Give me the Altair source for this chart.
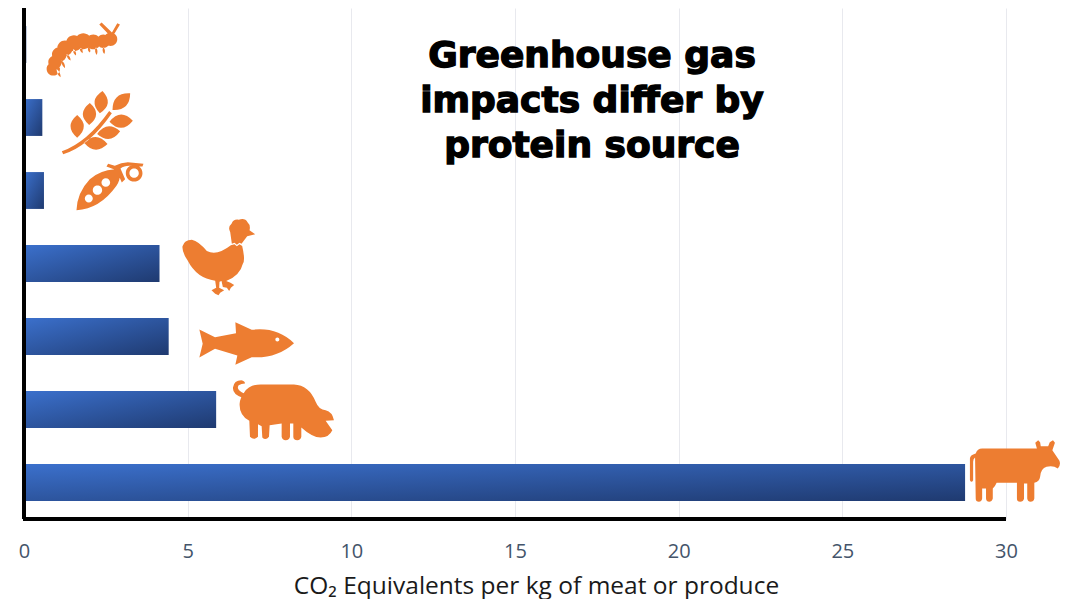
import re
import altair as alt
import pandas as pd

sources = ["Insects", "Wheat", "Peas", "Chicken", "Fish", "Pork", "Beef"]
co2_values = [0.07, 0.56, 0.61, 4.14, 4.42, 5.87, 28.75]
x_ticks = [0, 5, 10, 15, 20, 25, 30]
title_lines = ["Greenhouse gas", "impacts differ by", "protein source"]
axis_title = "CO\u2082 Equivalents per kg of meat or produce"

ORANGE = "#ED7D31"


def circle(cx, cy, r, hole=False):
    k = 0.5523 * r
    if hole:
        return (f"M{cx+r},{cy} C{cx+r},{cy-k} {cx+k},{cy-r} {cx},{cy-r} C{cx-k},{cy-r} {cx-r},{cy-k} {cx-r},{cy} "
                f"C{cx-r},{cy+k} {cx-k},{cy+r} {cx},{cy+r} C{cx+k},{cy+r} {cx+r},{cy+k} {cx+r},{cy} Z ")
    return (f"M{cx+r},{cy} C{cx+r},{cy+k} {cx+k},{cy+r} {cx},{cy+r} C{cx-k},{cy+r} {cx-r},{cy+k} {cx-r},{cy} "
            f"C{cx-r},{cy-k} {cx-k},{cy-r} {cx},{cy-r} C{cx+k},{cy-r} {cx+r},{cy-k} {cx+r},{cy} Z ")


def leaf(tx, ty, bx, by, w):
    mx, my = (tx + bx) / 2, (ty + by) / 2
    dx, dy = bx - tx, by - ty
    n = (dx * dx + dy * dy) ** 0.5
    px, py = -dy / n * w, dx / n * w
    return f"M{tx},{ty} Q{mx+px},{my+py} {bx},{by} Q{mx-px},{my-py} {tx},{ty} Z "


def glyph(path, sx=1 / 3, sy=1 / 3):
    """Centre a glyph outline on its own bounding box and scale it."""
    nums = [float(n) for n in re.findall(r"-?\d+\.?\d*", path)]
    xs, ys = nums[0::2], nums[1::2]
    cx, cy = (min(xs) + max(xs)) / 2, (min(ys) + max(ys)) / 2
    it = iter(range(len(nums)))

    def repl(m):
        i = next(it)
        if i % 2 == 0:
            return f"{(float(m.group()) - cx) * sx:.2f}"
        return f"{(float(m.group()) - cy) * sy:.2f}"

    return re.sub(r"-?\d+\.?\d*", repl, path)


insect = "".join(circle(x, y, r) for x, y, r in [
    (160, 205, 20), (165, 185, 20), (178, 162, 22), (195, 143, 23), (222, 128, 24),
    (250, 122, 24), (280, 124, 22), (310, 122, 20), (332, 116, 20)])
insect += "".join(leaf(a, b, c, d, 7) for a, b, c, d in [
    (182, 230, 170, 205), (195, 203, 185, 180), (212, 180, 200, 160), (228, 165, 220, 145),
    (248, 158, 240, 140), (270, 156, 265, 140), (290, 163, 288, 140), (313, 160, 310, 140)])
insect += "M298,72 L305,66 L336,96 L352,68 L360,72 L340,105 L325,100 Z"

wheat = ("M186,457 Q262,430 328,336 L336,343 Q268,442 190,466 Z "
         + leaf(308, 276, 300, 343, 40) + leaf(270, 312, 268, 378, 40) + leaf(232, 348, 232, 416, 40)
         + leaf(391, 283, 338, 333, 38) + leaf(399, 365, 329, 368, 40)
         + leaf(361, 397, 292, 405, 38) + leaf(323, 435, 253, 431, 38))

pea = ("M230,628 Q232,575 270,535 Q300,508 345,505 Q372,520 350,555 Q300,625 230,628 Z "
       + circle(267, 593, 12, True) + circle(293, 568, 14, True) + circle(318, 545, 13, True)
       + "M320,497 L325,489 L345,495 Q372,480 400,486 L431,489 L428,497 L408,497 "
         "Q378,490 362,503 L376,535 L366,545 L350,508 Z "
       + circle(403, 517, 25) + circle(403, 517, 14, True))

chicken = ("M547,108 Q552,88 575,88 Q595,92 620,122 Q650,138 692,105 L703,102 L710,108 L718,102 L726,107 "
           "Q736,150 728,160 Q720,195 678,212 L691,217 L702,224 L692,232 L687,242 L680,232 L668,230 L664,212 "
           "L658,214 L657,232 L672,240 L660,247 L655,255 L645,250 L634,240 L648,232 L645,211 "
           "Q590,205 562,150 Q545,125 547,108 Z "
           "M695,100 L690,65 Q682,50 694,40 Q700,25 716,28 Q735,22 742,36 Q752,45 748,60 L765,72 L741,78 L724,100 "
           "L718,97 L710,103 L703,97 Z")

fish = ("M598,357 L645,380 L708,368 L706,335 L755,358 Q830,348 882,398 Q830,445 755,440 "
        "L706,463 L712,435 L645,415 L598,441 L608,400 Z " + circle(832, 387, 6, True))

pig = ("M730,548 Q745,523 780,523 L880,523 Q925,525 945,575 Q955,600 975,600 Q995,605 1000,630 "
       "L975,632 L995,660 Q985,682 960,682 Q935,682 902,652 L902,680 Q900,690 890,690 Q878,690 878,680 "
       "L878,640 L868,640 L868,680 Q866,690 855,690 Q845,690 843,680 L843,640 L807,645 L805,680 Q795,692 785,682 "
       "L783,648 L772,642 L772,680 Q760,692 748,680 L746,632 Q715,615 717,580 Q718,565 730,548 Z "
       "M724,562 Q695,552 697,532 Q700,510 722,510 Q733,512 733,520 Q722,520 714,525 Q705,538 730,550 Z")

cow = ("M212,180 L212,115 Q212,105 230,100 Q235,85 250,85 L420,85 L415,68 L424,60 L430,66 L432,78 L455,78 "
       "L460,66 L470,60 L476,68 L468,90 L490,122 Q495,135 485,145 Q470,135 450,140 Q432,145 430,170 "
       "Q428,185 412,188 L412,235 Q410,245 400,245 Q392,245 390,235 L390,190 L380,190 L380,235 Q378,245 368,245 "
       "Q358,245 358,235 L358,188 L295,188 Q290,200 283,205 L283,235 Q280,245 272,245 Q263,245 262,235 L262,205 "
       "L250,205 L250,235 Q248,245 240,245 Q230,245 230,235 L228,112 Q222,116 222,125 L222,180 Q217,190 212,180 Z")

# one glyph per source: outline, offset from the bar's end, offset from the band's centre
icons = {
    "Insects": (glyph(insect), 57, 5.4),
    "Wheat": (glyph(wheat), 55, 6),
    "Peas": (glyph(pea), 66, -5),
    "Chicken": (glyph(chicken), 59, -7),
    "Fish": (glyph(fish), 78, 7),
    "Pork": (glyph(pig), 67, 1),
    "Beef": (glyph(cow, sx=0.322), 50.4, -11.5),
}

df = pd.DataFrame({"source": sources, "co2": co2_values})

x_scale = alt.Scale(domain=[0, 30], nice=False)
y_scale = alt.Scale(domain=sources, paddingInner=0.495, paddingOuter=0.2475)

x_axis = alt.Axis(
    values=x_ticks, format="d", title=axis_title, domain=False, ticks=False, grid=True,
    gridColor="#E8E9EE", gridWidth=1, labelFont="Open Sans", labelFontSize=20,
    labelColor="#44546A", labelPadding=22, labelFlush=False,
    titleFont="Open Sans", titleFontSize=24.5, titleFontWeight="normal", titleColor="#1A1A1A",
    titleX=512, titleY=74, titleBaseline="alphabetic", titleAlign="center",
)

gradient = alt.Gradient(
    gradient="linear", x1=0, y1=0, x2=1, y2=1,
    stops=[alt.GradientStop(offset=0, color="#3B70CC"), alt.GradientStop(offset=1, color="#1F3A70")],
)

bars = alt.Chart(df).mark_bar(color=gradient).encode(
    x=alt.X("co2:Q", scale=x_scale, axis=x_axis),
    y=alt.Y("source:N", scale=y_scale, sort=sources, axis=None),
)

layers = [bars]
for name, (outline, dx, dy) in icons.items():
    layers.append(
        alt.Chart(df[df["source"] == name]).mark_point(
            shape=outline, filled=True, fill=ORANGE, opacity=1, strokeWidth=0,
            size=4, xOffset=dx, yOffset=dy,
        ).encode(
            x=alt.X("co2:Q", scale=x_scale),
            y=alt.Y("source:N", scale=y_scale, sort=sources, axis=None),
        )
    )

left_line = alt.Chart(df).mark_rule(color="black", strokeWidth=3).encode(x=alt.value(0), y=alt.value(0), y2=alt.value(511))
bottom_line = alt.Chart(df).mark_rule(color="black", strokeWidth=3.5).encode(y=alt.value(511), x=alt.value(-1), x2=alt.value(982))

title_marks = []
for line, baseline_y in zip(title_lines, [59, 104, 149]):
    title_marks.append(
        alt.Chart(pd.DataFrame({"line": [line]})).mark_text(
            font="DejaVu Sans", fontWeight="bold", fontSize=36, color="black", align="center",
            baseline="alphabetic", stroke="black", strokeWidth=1.4,
        ).encode(x=alt.value(568), y=alt.value(baseline_y), text="line:N")
    )

chart = alt.layer(*layers, left_line, bottom_line, *title_marks).properties(
    width=982, height=511,
    padding={"left": 16, "top": 0, "right": 55, "bottom": 80},
    autosize=alt.AutoSizeParams(type="none"),
).configure_view(stroke=None)

chart.save("out.html", embed_options={"renderer": "svg", "actions": False})
